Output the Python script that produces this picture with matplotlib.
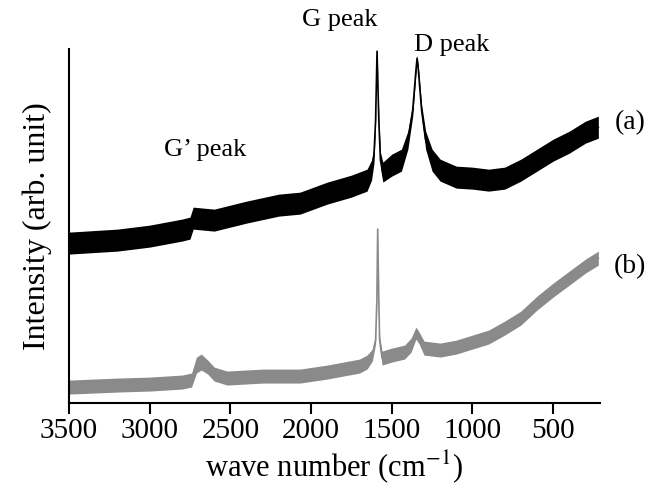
"""
Raman spectra (a) and (b)
"""
import matplotlib
matplotlib.use("Agg")
import matplotlib.pyplot as plt
import numpy as np

# spectrum (a): wave number, centre of the noisy trace, half width of the noise band
wn_a = [3500, 3200, 3000, 2800, 2750, 2730, 2600, 2400, 2200, 2068, 1900, 1750,
        1653, 1625, 1610, 1600, 1591, 1580, 1570, 1555, 1500, 1440, 1400, 1370,
        1350, 1343, 1335, 1315, 1290, 1250, 1200, 1100, 1000, 900, 800, 700,
        600, 500, 400, 300, 220]
int_a = [160, 163, 167, 173, 175, 185, 183, 191, 198, 200, 210, 217,
         223, 233, 248, 283, 352, 283, 243, 231, 238, 243, 263, 293,
         333, 345, 333, 293, 263, 243, 233, 226, 225, 223, 225, 233,
         243, 253, 261, 271, 276]
noise_a = [11, 11, 11, 11, 11, 11, 11, 11, 11, 11, 11, 11,
           11, 10, 8, 4, 2, 4, 8, 10, 11, 11, 9, 6,
           4, 3, 4, 6, 9, 11, 11, 11, 11, 11, 11, 11,
           11, 11, 11, 11, 11]

# spectrum (b)
wn_b = [3500, 3200, 3000, 2800, 2740, 2710, 2680, 2640, 2600, 2520, 2300, 2068,
        1900, 1700, 1653, 1620, 1600, 1592, 1587, 1580, 1575, 1560, 1500, 1420,
        1380, 1350, 1330, 1300, 1200, 1100, 1000, 900, 800, 700, 600, 500,
        400, 300, 220]
int_b = [16, 18, 19, 21, 23, 38, 41, 36, 29, 25, 27, 27,
         31, 37, 41, 48, 63, 103, 174, 103, 63, 45, 48, 51,
         58, 70, 65, 55, 53, 56, 61, 66, 75, 85, 100, 113,
         125, 137, 145]
noise_b = [7, 7, 7, 7, 7, 8, 8, 7, 7, 7, 7, 7,
           7, 7, 7, 6, 4, 2, 1, 2, 4, 7, 7, 7,
           7, 6, 6, 7, 7, 7, 7, 7, 7, 7, 7, 7,
           7, 7, 7]

tick_pos = [3500, 3000, 2500, 2000, 1500, 1000, 500]
peak_labels = ["G peak", "D peak", "G\u2019 peak"]

plt.rcParams["font.family"] = ["Liberation Serif", "DejaVu Serif"]
plt.rcParams["mathtext.fontset"] = "stix"

fig = plt.figure(figsize=(6.5, 4.97), dpi=100)
ax = fig.add_axes([0.106, 0.189, 0.817, 0.712])

for wn, val, nz, col in [(wn_a, int_a, noise_a, "black"),
                         (wn_b, int_b, noise_b, "#8a8a8a")]:
    wn = np.array(wn, dtype=float)
    val = np.array(val, dtype=float)
    nz = np.array(nz, dtype=float)
    ax.fill_between(wn, val - nz, val + nz, color=col, linewidth=0)
    ax.plot(wn, val, color=col, linewidth=1.2)

ax.set_xlim(3500, 210)
ax.set_ylim(0, 354)
ax.set_xticks(tick_pos)
ax.set_xticklabels([str(t) for t in tick_pos], family="Liberation Serif", fontsize=21)
ax.set_yticks([])
ax.tick_params(axis="x", direction="out", length=8, width=1.5, pad=3)
for s in ["top", "right"]:
    ax.spines[s].set_visible(False)
ax.spines["left"].set_linewidth(1.5)
ax.spines["bottom"].set_linewidth(1.5)

ax.set_xlabel("wave number (cm$^{-1}$)", fontsize=22, labelpad=3)
ax.set_ylabel("Intensity (arb. unit)", fontsize=23, labelpad=12)

fig.text(340 / 650, 1 - 20 / 497, peak_labels[0], fontsize=19, ha="center", va="center")
fig.text(452 / 650, 1 - 45 / 497, peak_labels[1], fontsize=19, ha="center", va="center")
fig.text(205 / 650, 1 - 150 / 497, peak_labels[2], fontsize=19, ha="center", va="center")
fig.text(630 / 650, 1 - 123 / 497, "(a)", fontsize=20, ha="center", va="center")
fig.text(630 / 650, 1 - 267 / 497, "(b)", fontsize=20, ha="center", va="center")

fig.savefig("out.png", dpi=100)
